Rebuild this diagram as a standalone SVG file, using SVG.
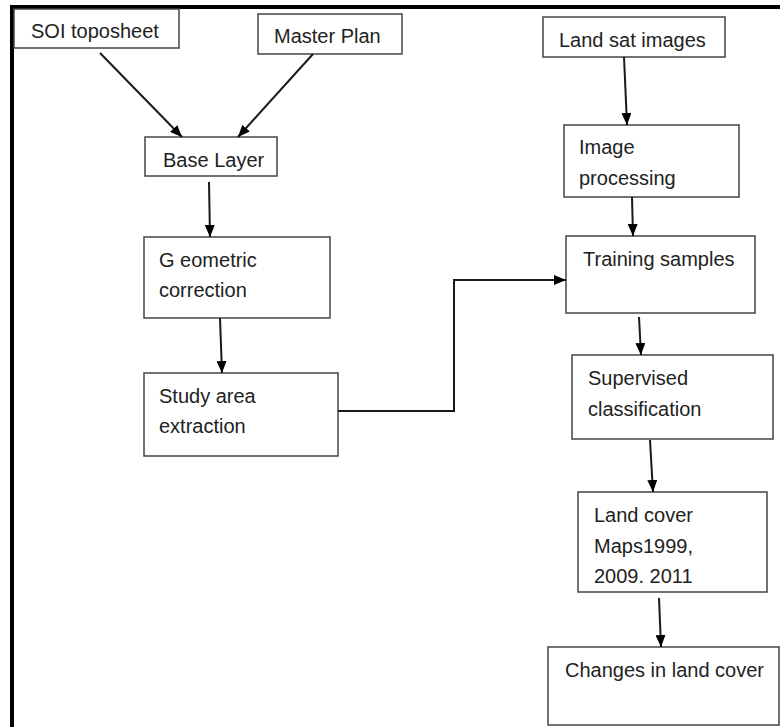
<svg xmlns="http://www.w3.org/2000/svg" width="780" height="727" viewBox="0 0 780 727">
<style>
.box{fill:#fff;stroke:#444;stroke-width:1.5}
.t{font-family:"Liberation Sans",Arial,sans-serif;font-size:20px;fill:#222}
.c{fill:none;stroke:#1a1a1a;stroke-width:2}
</style>
<defs>
<marker id="ah" viewBox="0 0 12 10" refX="12" refY="5" markerWidth="12" markerHeight="10" markerUnits="userSpaceOnUse" orient="auto">
<path d="M0,0 L12,5 L0,10 Z" fill="#000"/>
</marker>
</defs>
<rect x="0" y="0" width="780" height="727" fill="#fff"/>
<g id="frame">
<rect x="10" y="5" width="770" height="4" fill="#000"/>
<rect x="10" y="5" width="4" height="722" fill="#000"/>
</g>
<g id="n-soi"><rect class="box" x="14" y="9" width="165" height="39"/><text class="t" x="31" y="38">SOI toposheet</text></g>
<g id="n-master"><rect class="box" x="258" y="14" width="144" height="40"/><text class="t" x="274" y="43">Master Plan</text></g>
<g id="n-base"><rect class="box" x="145" y="137" width="132" height="39"/><text class="t" x="163" y="167">Base Layer</text></g>
<g id="n-geo"><rect class="box" x="144" y="237" width="186" height="81"/><text class="t" x="159" y="267">G eometric</text><text class="t" x="159" y="297">correction</text></g>
<g id="n-study"><rect class="box" x="144" y="373" width="194" height="83"/><text class="t" x="159" y="403">Study area</text><text class="t" x="159" y="433">extraction</text></g>
<g id="n-landsat"><rect class="box" x="543" y="17" width="182" height="40"/><text class="t" x="559" y="47">Land sat images</text></g>
<g id="n-imgproc"><rect class="box" x="564" y="125" width="175" height="72"/><text class="t" x="579" y="154">Image</text><text class="t" x="579" y="185">processing</text></g>
<g id="n-train"><rect class="box" x="566" y="236" width="189" height="77"/><text class="t" x="583" y="266">Training samples</text></g>
<g id="n-superv"><rect class="box" x="572" y="355" width="201" height="84"/><text class="t" x="588" y="385">Supervised</text><text class="t" x="588" y="416">classification</text></g>
<g id="n-landcover"><rect class="box" x="578" y="492" width="189" height="100"/><text class="t" x="594" y="522">Land cover</text><text class="t" x="594" y="553">Maps1999,</text><text class="t" x="594" y="583">2009. 2011</text></g>
<g id="n-changes"><rect class="box" x="548" y="647" width="231" height="78"/><text class="t" x="565" y="677">Changes in land cover</text></g>
<g id="connectors">
<line class="c" x1="100" y1="53" x2="182" y2="137" marker-end="url(#ah)"/>
<line class="c" x1="313" y1="54" x2="238" y2="137" marker-end="url(#ah)"/>
<line class="c" x1="209" y1="182" x2="210" y2="237" marker-end="url(#ah)"/>
<line class="c" x1="220" y1="318" x2="222" y2="373" marker-end="url(#ah)"/>
<polyline class="c" points="338,411 454,411 454,280 566,280" marker-end="url(#ah)"/>
<line class="c" x1="624" y1="57" x2="627" y2="125" marker-end="url(#ah)"/>
<line class="c" x1="632" y1="197" x2="633" y2="236" marker-end="url(#ah)"/>
<line class="c" x1="639" y1="317" x2="641" y2="355" marker-end="url(#ah)"/>
<line class="c" x1="650" y1="440" x2="653" y2="492" marker-end="url(#ah)"/>
<line class="c" x1="659" y1="598" x2="661" y2="647" marker-end="url(#ah)"/>
</g>
</svg>
